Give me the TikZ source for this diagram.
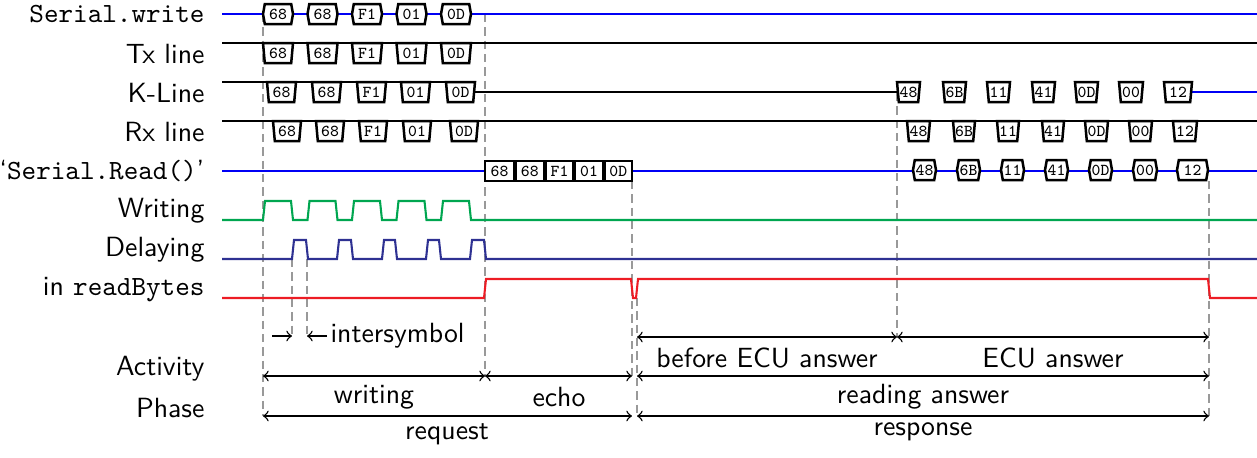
\documentclass[tikz,border=0pt]{standalone}
\renewcommand\familydefault{\sfdefault}
\usetikzlibrary{calc}
\definecolor{sigblue}{RGB}{0,0,245}
\definecolor{siggreen}{RGB}{0,166,80}
\definecolor{signavy}{RGB}{46,49,146}
\definecolor{sigred}{RGB}{237,28,36}
\tikzset{
  x=0.36pt, y=-0.36pt,
  sig/.style={line width=0.75pt, line join=miter},
  bytebox/.style={line width=0.9pt, fill=white, draw=black},
  bytetxt/.style={font=\fontsize{6}{6.5}\selectfont\ttfamily, inner sep=0pt},
  guide/.style={draw=black!40, line width=0.9pt, dash pattern=on 3pt off 1.8pt},
  dim/.style={line width=0.5pt, <->},
  lbl/.style={anchor=east, inner sep=0pt},
  txt/.style={inner sep=0pt}
}
\newcommand\mkhex[5]{%
  \draw[bytebox] (#2,#4) -- (#2+1.8,#4-10) -- (#3-1.8,#4-10) -- (#3,#4) -- (#3-1.8,#4+10) -- (#2+1.8,#4+10) -- cycle;
  \node[bytetxt] (#1) at ({(#2+#3)/2},#4) {#5};}
\newcommand\mktrap[5]{%
  \draw[bytebox] (#2,#4) -- (#3,#4) -- (#3-1.8,#4+20) -- (#2+1.8,#4+20) -- cycle;
  \node[bytetxt] (#1) at ({(#2+#3)/2},#4+10) {#5};}
\newcommand\mkrect[5]{%
  \draw[bytebox] (#2,#4-10) rectangle (#3,#4+10);
  \node[bytetxt] (#1) at ({(#2+#3)/2},#4) {#5};}
\begin{document}
\begin{tikzpicture}
\useasboundingbox (0,0) rectangle (1257,457);

% ---- labels ----
\node[lbl] (lsw) at (205,14) {\texttt{Serial.write}};
\node[lbl] (ltx) at (205,54) {Tx line};
\node[lbl] (lk) at (205,93) {K-Line};
\node[lbl] (lrx) at (205,132) {Rx line};
\node[lbl] (lrd) at (205,171) {`\texttt{Serial.Read()}'};
\node[lbl] (lwr) at (205,211) {Writing};
\node[lbl] (ldl) at (205,250) {Delaying};
\node[lbl] (lrb) at (205,290) {in \texttt{readBytes}};
\node[lbl] (lact) at (205,369) {Activity};
\node[lbl] (lph) at (205,408) {Phase};

% ---- guide lines ----
\coordinate (g1t) at (263,14);   \coordinate (g1b) at (263,416);
\coordinate (g2t) at (485,14);   \coordinate (g2b) at (485,376);
\coordinate (g3t) at (292,259);  \coordinate (g3b) at (292,336);
\coordinate (g4t) at (307,259);  \coordinate (g4b) at (307,336);
\coordinate (g5t) at (632,181);  \coordinate (g5b) at (632,376);
\coordinate (g6t) at (637,298);  \coordinate (g6b) at (637,416);
\coordinate (g7t) at (897,93);   \coordinate (g7b) at (897,337);
\coordinate (g8t) at (1209,181); \coordinate (g8b) at (1209,416);
\foreach \i in {1,...,8} {\draw[guide] (g\i t) -- (g\i b);}

% ---- signal lines ----
\draw[sig, sigblue] (222,14) -- (1257,14);
\draw[sig] (222,43) -- (1257,43);
\draw[sig] (222,82) -- (475,82);
\draw[sig] (473,92) -- (897,92);
\draw[sig, sigblue] (1192,92) -- (1257,92);
\draw[sig] (222,121) -- (1257,121);
\draw[sig, sigblue] (222,171) -- (1257,171);

% writing
\draw[sig, siggreen] (222,220)
  \foreach \s in {263,307.5,352,396.5,441} { -- (\s,220) -- (\s+2,201) -- (\s+28,201) -- (\s+30,220) }
  -- (1257,220);
% delaying
\draw[sig, signavy] (222,259)
  \foreach \a/\b in {292/308,337/353,382/397,426/441,470/486} { -- (\a,259) -- (\a+2,240) -- (\b-2,240) -- (\b,259) }
  -- (1257,259);
% readBytes
\draw[sig, sigred] (222,298) -- (484,298) -- (486,279) -- (631,279) -- (633,298) -- (636,298) -- (638,279)
  -- (1208,279) -- (1210,298) -- (1257,298);

% ---- bytes ----
\foreach \x/\t [count=\i] in {263/68,307.5/68,352/F1,396.5/01,441/0D}
  {\mkhex{sw\i}{\x}{\x+30}{14}{\t}}
\foreach \x/\t [count=\i] in {263/68,307.5/68,352/F1,396.5/01,441/0D}
  {\mktrap{tx\i}{\x}{\x+30}{43}{\t}}
\foreach \x/\t [count=\i] in {267/68,312/68,357/F1,401/01,446/0D}
  {\mktrap{kq\i}{\x}{\x+29}{82}{\t}}
\foreach \x/\t [count=\i] in {273/68,316/68,359/F1,403/01,450/0D}
  {\mktrap{rq\i}{\x}{\x+28}{121}{\t}}
\foreach \x/\y/\t [count=\i] in {485/514/68,515.5/544/68,545.5/573.5/F1,575/603/01,604.5/632/0D}
  {\mkrect{rd\i}{\x}{\y}{171}{\t}}
\foreach \x/\y/\t [count=\i] in {897/920/48,943/966/6B,987/1010/11,1032/1055/41,1075/1098/0D,1119/1143/00,1164/1192/12}
  {\mktrap{ka\i}{\x}{\y}{82}{\t}}
\foreach \x/\y/\t [count=\i] in {907/930/48,953/975/6B,997/1019/11,1042/1064/41,1085/1108/0D,1129/1152/00,1173/1197/12}
  {\mktrap{ra\i}{\x}{\y}{121}{\t}}
\foreach \x/\y/\t [count=\i] in {913/936/48,957/980/6B,1001/1024/11,1045/1068/41,1089/1112/0D,1133/1157/00,1177/1208/12}
  {\mkhex{rr\i}{\x}{\y}{170}{\t}}

% ---- dimension arrows ----
\coordinate (is1) at (272,336);
\coordinate (is2) at (327,336);
\draw[line width=0.5pt, ->] (is1) -- (g3b);
\draw[line width=0.5pt, ->] (is2) -- (g4b);
\node[txt, anchor=west] (tis) at (330,336) {intersymbol};

\coordinate (a1) at (637,337); \coordinate (a2) at (897,337); \coordinate (a3) at (1209,337);
\draw[dim] (a1) -- (a2);
\draw[dim] (a2) -- (a3);
\node[txt] (tbe) at (767,358) {before ECU answer};
\node[txt] (tea) at (1053,358) {ECU answer};

\coordinate (b1) at (263,376); \coordinate (b2) at (485,376); \coordinate (b3) at (632,376);
\coordinate (b4) at (637,376); \coordinate (b5) at (1209,376);
\draw[dim] (b1) -- (b2);
\draw[dim] (b2) -- (b3);
\draw[dim] (b4) -- (b5);
\node[txt] (twr) at (374,397) {writing};
\node[txt] (tec) at (559,397) {echo};
\node[txt] (tra) at (923,397) {reading answer};

\coordinate (c1) at (263,416); \coordinate (c2) at (632,416);
\coordinate (c3) at (637,416); \coordinate (c4) at (1209,416);
\draw[dim] (c1) -- (c2);
\draw[dim] (c3) -- (c4);
\node[txt] (trq) at (447,434) {request};
\node[txt] (trs) at (923,432) {response};
\end{tikzpicture}
\end{document}
